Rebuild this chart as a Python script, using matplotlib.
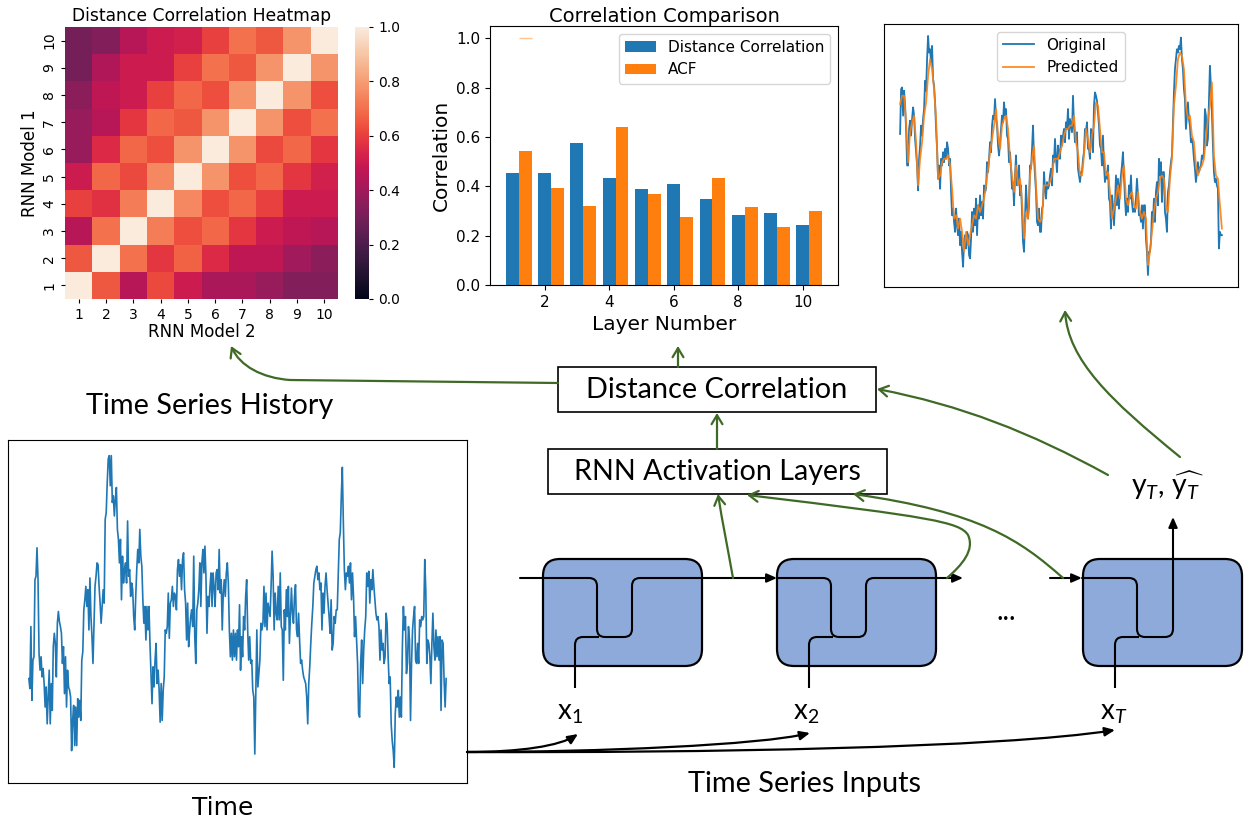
import numpy as np
import matplotlib
matplotlib.use('Agg')
import matplotlib.pyplot as plt
import seaborn as sns
from matplotlib.patches import FancyArrowPatch, FancyBboxPatch, Rectangle, PathPatch
from matplotlib.path import Path

# ---------------- data ----------------
layers = [1, 2, 3, 4, 5, 6, 7, 8, 9, 10]

# distance correlation between layers of model 1 (rows) and model 2 (cols)
heat_values = [
    [1.00, 0.65, 0.45, 0.62, 0.50, 0.42, 0.42, 0.38, 0.33, 0.33],
    [0.65, 1.00, 0.70, 0.58, 0.67, 0.55, 0.47, 0.47, 0.40, 0.35],
    [0.45, 0.70, 1.00, 0.73, 0.63, 0.68, 0.58, 0.50, 0.47, 0.45],
    [0.60, 0.57, 0.73, 1.00, 0.75, 0.63, 0.68, 0.60, 0.50, 0.50],
    [0.50, 0.68, 0.62, 0.75, 1.00, 0.78, 0.63, 0.68, 0.58, 0.52],
    [0.38, 0.55, 0.68, 0.63, 0.78, 1.00, 0.78, 0.62, 0.68, 0.58],
    [0.38, 0.45, 0.58, 0.68, 0.65, 0.78, 1.00, 0.78, 0.63, 0.70],
    [0.35, 0.47, 0.50, 0.60, 0.68, 0.63, 0.78, 1.00, 0.78, 0.63],
    [0.30, 0.43, 0.50, 0.50, 0.60, 0.70, 0.65, 0.78, 1.00, 0.78],
    [0.30, 0.33, 0.45, 0.50, 0.52, 0.60, 0.70, 0.65, 0.78, 1.00],
]

dist_corr = [0.455, 0.453, 0.577, 0.433, 0.388, 0.410, 0.350, 0.283, 0.290, 0.243]
acf = [0.543, 0.392, 0.322, 0.640, 0.368, 0.275, 0.433, 0.318, 0.235, 0.298]
acf_lag0 = 1.0

# time series history (arbitrary units)
history = [
    255, 225, 410, 190, 310, 320, 550, 560, 645, 550, 330, 280, 320, 260, 285, 240, 170, 230, 120, 200,
    280, 120, 240, 160, 350, 390, 360, 260, 420, 455, 425, 410, 390, 300, 350, 210, 320, 170, 280, 230,
    220, 200, 40, 130, 175, 55, 170, 55, 195, 140, 190, 130, 310, 335, 460, 490, 530, 470, 520, 400,
    555, 440, 380, 300, 420, 530, 560, 600, 595, 530, 480, 420, 470, 520, 480, 730, 750, 840, 910, 920,
    830, 920, 780, 800, 740, 790, 825, 700, 670, 600, 670, 490, 620, 540, 580, 600, 540, 725, 560, 580,
    500, 540, 520, 440, 400, 500, 580, 640, 600, 700, 620, 590, 490, 420, 470, 370, 470, 400, 470, 360,
    270, 180, 290, 230, 310, 360, 240, 280, 220, 125, 240, 130, 220, 260, 400, 390, 410, 510, 375, 480,
    490, 530, 470, 510, 500, 460, 580, 610, 560, 595, 520, 610, 630, 520, 480, 370, 480, 350, 400, 440,
    460, 410, 620, 380, 300, 460, 480, 520, 600, 470, 600, 640, 570, 650, 560, 390, 500, 470, 530, 570,
    470, 570, 530, 470, 570, 580, 520, 640, 510, 550, 400, 510, 550, 500, 570, 600, 540, 400, 320, 390,
    310, 400, 320, 390, 310, 400, 350, 475, 280, 380, 320, 440, 400, 500, 550, 400, 310, 380, 300, 310,
    220, 200, 30, 220, 400, 230, 270, 310, 420, 400, 420, 530, 410, 510, 400, 480, 460, 440, 530, 635,
    560, 400, 510, 450, 430, 530, 430, 570, 410, 400, 250, 460, 400, 520, 440, 530, 360, 440, 525, 450,
    420, 500, 535, 400, 380, 450, 370, 300, 310, 280, 260, 250, 240, 200, 120, 240, 290, 360, 420, 470,
    540, 560, 580, 590, 550, 570, 520, 540, 400, 510, 450, 530, 570, 520, 480, 440, 390, 490, 340, 360,
    440, 420, 460, 460, 560, 670, 690, 800, 885, 720, 580, 520, 570, 560, 590, 540, 600, 490, 570, 500,
    380, 440, 370, 300, 150, 140, 300, 370, 240, 340, 400, 440, 570, 530, 575, 480, 550, 520, 580, 530,
    490, 450, 430, 440, 410, 310, 400, 340, 360, 300, 320, 450, 420, 320, 240, 260, 120, 70, 40, -10,
    150, 200, 170, 220, 140, 200, 140, 350, 470, 400, 440, 270, 300, 410, 370, 130, 300, 400, 440, 470,
    310, 300, 360, 300, 430, 410, 440, 430, 440, 610, 520, 300, 370, 360, 320, 240, 360, 450, 350, 310,
    400, 320, 380, 310, 380, 160, 370, 360, 250, 170, 255,
]

# original vs predicted (arbitrary units)
original = [
    655, 790, 795, 710, 785, 740, 670, 560, 560, 670, 695, 650, 700, 735, 710, 640, 600, 560, 485, 580,
    620, 680, 650, 700, 730, 815, 785, 880, 950, 900, 910, 870, 920, 820, 800, 750, 670, 610, 520, 560,
    490, 580, 560, 600, 570, 610, 580, 630, 610, 560, 580, 480, 410, 430, 390, 360, 430, 380, 350, 400,
    320, 360, 300, 255, 330, 350, 310, 360, 350, 290, 280, 340, 420, 360, 430, 380, 460, 350, 440, 400,
    470, 410, 450, 400, 500, 480, 490, 570, 540, 580, 630, 600, 680, 710, 700, 760, 700, 680, 620, 590,
    630, 670, 710, 690, 750, 710, 730, 650, 640, 570, 600, 550, 490, 510, 440, 530, 590, 500, 510, 560,
    470, 500, 420, 330, 300, 400, 500, 440, 400, 440, 560, 550, 610, 680, 580, 530, 480, 390, 380, 430,
    360, 360, 430, 440, 540, 490, 460, 510, 490, 500, 530, 550, 500, 590, 570, 640, 580, 540, 620, 590,
    580, 650, 620, 650, 670, 630, 690, 670, 730, 640, 700, 680, 660, 770, 680, 630, 650, 660, 550, 530,
    510, 540, 540, 580, 600, 670, 660, 690, 610, 610, 580, 670, 660, 600, 740, 780, 770, 755, 720, 680,
    620, 610, 560, 650, 560, 510, 540, 520, 560, 460, 450, 370, 470, 440, 380, 440, 530, 440, 520, 430,
    500, 530, 560, 600, 530, 460, 410, 460, 420, 500, 460, 530, 450, 420, 430, 420, 460, 520, 470, 410,
    420, 390, 440, 370, 440, 440, 340, 300, 230, 300, 300, 330, 420, 390, 460, 390, 480, 510, 440, 580,
    530, 570, 450, 540, 540, 420, 400, 360, 480, 500, 540, 570, 590, 690, 780, 850, 880, 910, 900, 920,
    910, 945, 880, 850, 790, 760, 670, 710, 750, 700, 680, 630, 640, 620, 580, 550, 510, 540, 570, 540,
    550, 560, 590, 580, 600, 730, 710, 620, 640, 750, 860, 800, 720, 620, 540, 510, 520, 500, 490, 310,
    360, 350, 350,
]
predicted = [
    745, 770, 770, 690, 570, 660, 690, 710, 630, 500, 580, 630, 710, 750, 830, 880, 850, 790, 700, 520,
    530, 570, 580, 580, 590, 560, 490, 400, 410, 370, 400, 360, 300, 360, 320, 350, 380, 410, 400, 440,
    420, 440, 460, 500, 550, 600, 640, 680, 730, 650, 610, 680, 700, 710, 670, 580, 530, 480, 560, 500,
    520, 450, 340, 420, 400, 530, 580, 620, 500, 400, 390, 400, 500, 500, 500, 510, 530, 580, 580, 580,
    600, 620, 650, 670, 670, 680, 680, 710, 630, 600, 530, 530, 590, 670, 640, 600, 650, 680, 750, 740,
    670, 600, 600, 530, 540, 480, 400, 430, 460, 500, 460, 530, 560, 460, 440, 470, 480, 440, 430, 480,
    420, 400, 420, 400, 260, 300, 360, 420, 460, 480, 520, 530, 520, 440, 420, 520, 580, 740, 800, 880,
    900, 890, 850, 740, 700, 710, 650, 630, 560, 530, 550, 560, 580, 640, 700, 740, 810, 590, 530, 520,
    440, 370,
]

# ---------------- figure ----------------
W, H = 1247, 830
fig = plt.figure(figsize=(W / 100, H / 100), dpi=100)
plt.rcParams['mathtext.fontset'] = 'custom'
plt.rcParams['mathtext.rm'] = 'Lato'
plt.rcParams['mathtext.it'] = 'Lato:italic'
plt.rcParams['mathtext.bf'] = 'Lato:bold'


def rect(x0, y0, x1, y1):
    return [x0 / W, 1 - y1 / H, (x1 - x0) / W, (y1 - y0) / H]


# heatmap
ax_hm = fig.add_axes(rect(65, 27, 338, 299))
cax = fig.add_axes(rect(355, 27, 369, 299))
sns.heatmap(np.array(heat_values), ax=ax_hm, cbar_ax=cax, cmap='rocket', vmin=0, vmax=1,
            xticklabels=layers, yticklabels=layers)
ax_hm.invert_yaxis()
ax_hm.set_title('Distance Correlation Heatmap', fontsize=12.3, pad=4)
ax_hm.set_xlabel('RNN Model 2', fontsize=12, labelpad=1)
ax_hm.set_ylabel('RNN Model 1', fontsize=12, labelpad=2)
ax_hm.tick_params(labelsize=10, length=3)
plt.setp(ax_hm.get_yticklabels(), rotation=90, va='center')
plt.setp(ax_hm.get_xticklabels(), rotation=0)
cax.tick_params(labelsize=10, length=3)
cax.set_yticks([0, 0.2, 0.4, 0.6, 0.8, 1.0])

# bar chart
ax_b = fig.add_axes(rect(490, 26, 838, 285))
xl = np.array(layers)
ax_b.bar(xl, dist_corr, width=0.4, color='#1f77b4', label='Distance Correlation')
ax_b.bar(xl + 0.4, acf, width=0.4, color='#ff7f0e', label='ACF')
ax_b.hlines(acf_lag0, 1.2, 1.6, color='#ffc48f', lw=1)
ax_b.set_title('Correlation Comparison', fontsize=14, pad=3)
ax_b.set_xlabel('Layer Number', fontsize=14.5)
ax_b.set_ylabel('Correlation', fontsize=14.5)
ax_b.tick_params(labelsize=11)
ax_b.set_xticks([2, 4, 6, 8, 10])
ax_b.set_yticks([0, 0.2, 0.4, 0.6, 0.8, 1.0])
ax_b.legend(loc='upper right', fontsize=11)

# original vs predicted
ax_p = fig.add_axes(rect(884, 24, 1238, 287))
ax_p.plot(np.linspace(0, 1, len(original)), original, color='#1f77b4', lw=1.3, label='Original')
ax_p.plot(np.linspace(0, 1, len(predicted)), predicted, color='#ff7f0e', lw=1.3, alpha=0.9,
          label='Predicted')
ax_p.set_xticks([])
ax_p.set_yticks([])
ax_p.legend(loc='upper center', fontsize=11)

# time series history
ax_t = fig.add_axes(rect(8, 440, 467, 783))
ax_t.plot(np.arange(len(history)), history, color='#1f77b4', lw=1.2)
ax_t.set_xticks([])
ax_t.set_yticks([])

# ---------------- diagram overlay ----------------
ov = fig.add_axes([0, 0, 1, 1], zorder=5)
ov.set_xlim(0, W)
ov.set_ylim(H, 0)
ov.axis('off')
ov.patch.set_alpha(0)

GREEN = '#3f6a26'
FONT = 'Lato'


def rounded(points, r=8):
    verts = [points[0]]
    codes = [Path.MOVETO]
    for i in range(1, len(points) - 1):
        p0 = np.array(points[i - 1], float)
        p1 = np.array(points[i], float)
        p2 = np.array(points[i + 1], float)
        d1 = (p1 - p0) / np.linalg.norm(p1 - p0)
        d2 = (p2 - p1) / np.linalg.norm(p2 - p1)
        verts += [tuple(p1 - d1 * r), tuple(p1), tuple(p1 + d2 * r)]
        codes += [Path.LINETO, Path.CURVE3, Path.CURVE3]
    verts.append(points[-1])
    codes.append(Path.LINETO)
    return Path(verts, codes)


def cubic(p0, p1, p2, p3, pre=None):
    verts, codes = [], []
    if pre is not None:
        verts.append(pre)
        codes.append(Path.MOVETO)
        verts.append(p0)
        codes.append(Path.LINETO)
    else:
        verts.append(p0)
        codes.append(Path.MOVETO)
    verts += [p1, p2, p3]
    codes += [Path.CURVE4] * 3
    return Path(verts, codes)


def garrow(path):
    ov.add_patch(FancyArrowPatch(path=path, arrowstyle='->,head_length=0.5,head_width=0.3',
                                 mutation_scale=13, color=GREEN, lw=1.6))


def barrow(path, lw=1.5):
    ov.add_patch(FancyArrowPatch(path=path, arrowstyle='-|>,head_length=0.5,head_width=0.22',
                                 mutation_scale=12, color='black', lw=lw))


# boxes
ov.add_patch(Rectangle((558, 367), 318, 45, fc='white', ec='black', lw=1.2))
ov.add_patch(Rectangle((548, 449), 339, 45, fc='white', ec='black', lw=1.2))
ov.text(717, 390, 'Distance Correlation', fontsize=20.8, family=FONT, ha='center', va='center')
ov.text(717, 472, 'RNN Activation Layers', fontsize=20.6, family=FONT, ha='center', va='center')

# RNN cells
for cx in [543, 777, 1083]:
    ov.add_patch(FancyBboxPatch((cx, 559), 159, 107, boxstyle='round,pad=0,rounding_size=17',
                                fc='#8eaadb', ec='black', lw=1.6))

for cx, x0, x1 in [(543, 520, 777), (777, 777, 963)]:
    barrow(rounded([(x0, 578), (cx + 54, 578), (cx + 54, 637), (cx + 89, 637),
                    (cx + 89, 578), (x1, 578)]))
    ov.add_patch(PathPatch(rounded([(cx + 32, 688), (cx + 32, 637), (cx + 56, 637)]),
                           fill=False, ec='black', lw=1.5))
cx = 1083
barrow(Path([(1050, 578), (1082, 578)]))
barrow(rounded([(1082, 578), (cx + 54, 578), (cx + 54, 637), (cx + 90, 637), (cx + 90, 517)]))
ov.add_patch(PathPatch(rounded([(cx + 32, 688), (cx + 32, 637), (cx + 56, 637)]),
                       fill=False, ec='black', lw=1.5))

# green arrows
garrow(cubic((290, 380), (262, 378), (240, 366), (231, 346), pre=(558, 383)))
garrow(Path([(678, 367), (678, 346)]))
garrow(Path([(717, 449), (717, 413)]))
garrow(cubic((1108, 475), (1030, 432), (960, 405), (877, 389)))
garrow(cubic((1180, 457), (1110, 400), (1068, 360), (1065, 310)))
garrow(cubic((733, 578), (728, 550), (722, 520), (718, 494)))
garrow(Path([(947, 578), (962, 565), (975, 550), (968, 535), (960, 522), (930, 517), (747, 495)],
            [Path.MOVETO, Path.CURVE4, Path.CURVE4, Path.CURVE4, Path.CURVE4, Path.CURVE4, Path.CURVE4]))
garrow(cubic((1063, 578), (1020, 540), (980, 512), (853, 494)))

# black input arrows
barrow(cubic((467, 752), (520, 752), (560, 746), (578, 734)), lw=1.6)
barrow(cubic((467, 752), (600, 752), (760, 745), (810, 733)), lw=1.6)
barrow(cubic((467, 752), (700, 753), (1000, 748), (1115, 730)), lw=1.6)

# labels
ov.text(570, 712, r'$\mathrm{x}_{\mathit{1}}$', fontsize=20, ha='center', va='center')
ov.text(806, 712, r'$\mathrm{x}_{\mathit{2}}$', fontsize=20, ha='center', va='center')
ov.text(1114, 712, r'$\mathrm{x}_{\mathit{T}}$', fontsize=20, ha='center', va='center')
ov.text(1167, 486, r'$\mathrm{y}_{\mathit{T}}\mathrm{,}\ \widehat{\mathrm{y}_{\mathit{T}}}$',
        fontsize=20.5, ha='center', va='center')
ov.text(1006, 612, '...', fontsize=20, family=FONT, ha='center', va='center')
ov.text(210, 406, 'Time Series History', fontsize=20.8, family=FONT, ha='center', va='center')
ov.text(805, 784, 'Time Series Inputs', fontsize=20.8, family=FONT, ha='center', va='center')
ov.text(223, 808, 'Time', fontsize=18, ha='center', va='center')

fig.savefig('out.png', dpi=100)
